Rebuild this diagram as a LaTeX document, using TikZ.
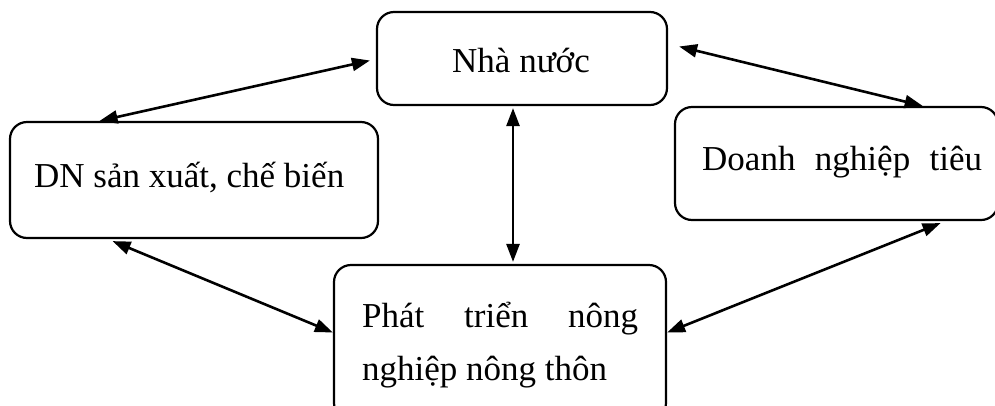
\documentclass[tikz,border=0pt]{standalone}
\usepackage{fontspec}
\setmainfont{Liberation Serif}
\usetikzlibrary{arrows.meta,calc}
\tikzset{
  box/.style={draw=black, line width=2.2pt, rounded corners=17pt, inner sep=0pt},
  lbl/.style={anchor=base west, inner sep=0pt, font=\fontsize{35}{53}\selectfont},
  link/.style={line width=2.6pt, {Triangle[length=18pt,width=13pt]}-{Triangle[length=18pt,width=13pt]}}
}
\begin{document}
\begin{tikzpicture}[x=1pt,y=-1pt]
\useasboundingbox (0,0) rectangle (995,405);
% boxes
\node[box, minimum width=290pt, minimum height=93pt] (nha) at (522,58.5) {};
\node[box, minimum width=368pt, minimum height=116pt] (dn) at (194,180) {};
\node[box, minimum width=323pt, minimum height=113pt] (dntt) at (836.5,163.5) {};
\node[box, minimum width=332pt, minimum height=155pt] (pt) at (500,342.5) {};
% texts
\node[lbl] (tnha) at (452,72) {Nhà nước};
\node[lbl] (tdn) at (34,187) {DN sản xuất, chế biến};
\node[lbl] (tdntt) at (702,170) {\hbox to 280pt{Doanh\hfill nghiệp\hfill tiêu}};
\node[lbl] (tpt1) at (362,327) {\hbox to 276pt{Phát\hfill triển\hfill nông}};
\node[lbl] (tpt2) at (362,380) {nghiệp nông thôn};
% connectors
\draw[link] ([xshift=-6pt,yshift=-2pt]nha.west) -- ($(dn.north west)!0.245!(dn.north east)$);
\draw[link] ([xshift=11pt,yshift=12pt]nha.east) -- ($(dntt.north west)!0.765!(dntt.north east)$);
\draw[link] ([xshift=-9pt,yshift=-2pt]nha.south) -- ([xshift=13pt,yshift=2pt]pt.north);
\draw[link] ($(dn.south west)!0.28!(dn.south east)+(0,2)$) -- ([yshift=10pt]pt.west);
\draw[link] ([yshift=10pt]pt.east) -- ($(dntt.south west)!0.82!(dntt.south east)+(0,2)$);
\end{tikzpicture}
\end{document}
